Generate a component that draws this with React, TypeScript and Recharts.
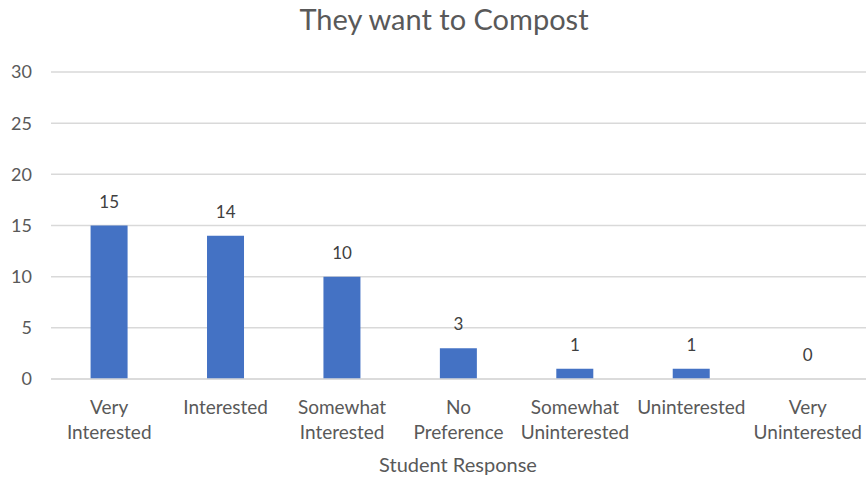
import { ComposedChart, Bar, Line, XAxis, YAxis, CartesianGrid, LabelList } from 'recharts';

const categories = ['Very Interested', 'Interested', 'Somewhat Interested', 'No Preference', 'Somewhat Uninterested', 'Uninterested', 'Very Uninterested'];
const tickLines = [['Very', 'Interested'], ['Interested'], ['Somewhat', 'Interested'], ['No', 'Preference'], ['Somewhat', 'Uninterested'], ['Uninterested'], ['Very', 'Uninterested']];
const counts = [15, 14, 10, 3, 1, 1, 0];
const yTicks = [0, 5, 10, 15, 20, 25, 30];

const data = categories.map((name, i) => ({ name, value: counts[i] }));

const font = 'Lato, "Open Sans", sans-serif';

function CatTick(props: any) {
  const { x, y, index } = props;
  const lines = tickLines[index] || [];
  return (
    <text x={x} y={y} textAnchor="middle" fill="#595959" fontSize={19} fontFamily={font}>
      {lines.map((l, k) => (
        <tspan key={k} x={x} dy={k === 0 ? 27 : 25}>{l}</tspan>
      ))}
    </text>
  );
}

function ValueLabel(props: any) {
  const { x, y, value } = props;
  return (
    <text x={x} y={y - 18} textAnchor="middle" fill="#404040" fontSize={17} fontFamily={font}>{value}</text>
  );
}

export default function App() {
  return (
    <div style={{ position: 'absolute', left: 0, top: 0, width: 866, height: 484, background: '#fff' }}>
      <ComposedChart width={866} height={484} data={data} margin={{ top: 72, right: 0, left: 0, bottom: 0 }} barCategoryGap="34%">
        <text x={444} y={30} textAnchor="middle" fill="#595959" fontSize={29} fontFamily={font}>They want to Compost</text>
        <text x={458} y={472} textAnchor="middle" fill="#595959" fontSize={20} fontFamily={font}>Student Response</text>
        <CartesianGrid vertical={false} stroke="#d9d9d9" strokeWidth={1.5} />
        <XAxis dataKey="name" interval={0} axisLine={{ stroke: '#d9d9d9', strokeWidth: 1.5 }} tickLine={false} tick={<CatTick />} height={105} />
        <YAxis width={51} domain={[0, 30]} ticks={yTicks} axisLine={false} tickLine={false} tickSize={0} tickMargin={19}
          tick={{ fill: '#595959', fontSize: 18, fontFamily: font }} />
        <Bar dataKey="value" fill="#4472c4" isAnimationActive={false} />
        <Line dataKey="value" stroke="none" dot={false} activeDot={false} legendType="none" isAnimationActive={false}>
          <LabelList dataKey="value" content={<ValueLabel />} />
        </Line>
      </ComposedChart>
    </div>
  );
}
